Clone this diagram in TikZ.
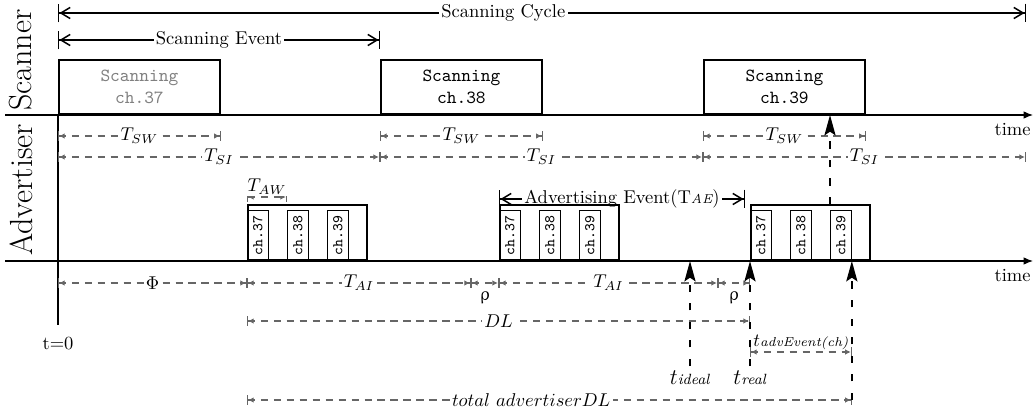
\documentclass[tikz,border=0pt]{standalone}
\usepackage{upgreek}
\usetikzlibrary{arrows.meta}

\tikzset{
  axis/.style={line width=0.6pt,-{Latex[length=5pt,width=4pt]}},
  scanbox/.style={draw,line width=1pt,anchor=south west,minimum width=86.9pt,
    minimum height=29.2pt,inner sep=0pt,align=center,font=\ttfamily},
  advbox/.style={draw,line width=1pt,anchor=south west,minimum width=64.3pt,
    minimum height=29.7pt,inner sep=0pt},
  chbox/.style={draw,line width=0.5pt,rotate=90,anchor=north west,minimum width=27pt,
    minimum height=11.3pt,inner sep=0pt,font=\footnotesize\ttfamily},
  dim/.style={black!60,line width=0.6pt,dash pattern=on 4pt off 3pt,
    {Bar[width=5pt]Latex[length=3pt,width=3pt]}-{Latex[length=3pt,width=3pt]Bar[width=5pt]}},
  span/.style={line width=0.8pt,
    {Bar[width=10pt]Straight Barb[length=5pt,width=6pt]}-{Straight Barb[length=5pt,width=6pt]Bar[width=10pt]}},
  marker/.style={line width=1pt,dash pattern=on 4pt off 6pt,-{Stealth[length=11pt,width=6pt,inset=2pt]}},
  lab/.style={fill=white,inner sep=1.2pt,text=black},
}

\begin{document}
\begin{tikzpicture}[x=0.54pt,y=-0.54pt]
\useasboundingbox (0,0) rectangle (1035,410);

% levels
\coordinate (cyc) at (0,13);
\coordinate (ev) at (0,40);
\coordinate (sw) at (0,136);
\coordinate (si) at (0,157);
\coordinate (aw) at (0,197);
\coordinate (ae) at (0,199);
\coordinate (ph) at (0,283);
\coordinate (dl) at (0,321);
\coordinate (te) at (0,352);
\coordinate (lo) at (0,366);
\coordinate (tot) at (0,400);

% axes
\coordinate (sl) at (5,115);
\coordinate (sr) at (1033,115);
\coordinate (al) at (5,261);
\coordinate (ar) at (1033,261);
\draw[axis] (sl) -- (sr) node[below left,inner sep=1pt,yshift=-3pt] (tsc) {time};
\draw[axis] (al) -- (ar) node[below left,inner sep=1pt,yshift=-3pt] (tad) {time};
\node[rotate=90,font=\LARGE] (scn) at (21,60) {Scanner};
\node[rotate=90,font=\LARGE] (adv) at (21,190) {Advertiser};

\coordinate (t0) at (58,115);
\coordinate (t0b) at (58,325);
\coordinate (tend) at (1026,115);
\draw[line width=0.6pt] (t0) -- (t0b) node[below=3pt] (zero) {t=0};

% scanner
\node[scanbox,text=black!50] (sc1) at (58,115) {Scanning\\ch.37};
\node[scanbox] (sc2) at (380,115) {Scanning\\ch.38};
\node[scanbox] (sc3) at (703,115) {Scanning\\ch.39};

\draw[span] (sc1.south west |- cyc) -- node[lab,pos=0.46]{Scanning Cycle} (tend |- cyc);
\draw[span] (sc1.south west |- ev) -- node[lab]{Scanning Event} (sc2.south west |- ev);

\foreach \n in {1,2,3}
  \draw[dim] (sc\n.south west |- sw) -- node[lab]{$T_{SW}$} (sc\n.south east |- sw);
\draw[dim] (sc1.south west |- si) -- node[lab]{$T_{SI}$} (sc2.south west |- si);
\draw[dim] (sc2.south west |- si) -- node[lab]{$T_{SI}$} (sc3.south west |- si);
\draw[dim] (sc3.south west |- si) -- node[lab]{$T_{SI}$} (tend |- si);

% advertiser
\coordinate (astart) at (499,199);
\coordinate (aend) at (745,199);
\draw[span] (astart) -- node[lab]{Advertising Event(T{\scriptsize\itshape AE})} (aend);

\foreach \n/\x in {1/247,2/499,3/750} {
  \node[advbox] (ad\n) at (\x,261) {};
  \foreach \c [count=\i from 0] in {37,38,39}
    \node[chbox] (c\n\c) at (\x+40*\i,261) {ch.\c};
}

\draw[dim] (ad1.south west |- aw) -- node[lab,above]{$T_{AW}$} (c138.north west |- aw);

% intervals
\coordinate (rho1) at (471,261);
\coordinate (rho2) at (718,261);
\draw[dim] (t0 |- ph) -- node[lab]{$\Phi$} (ad1.south west |- ph);
\draw[dim] (ad1.south west |- ph) -- node[lab]{$T_{AI}$} (rho1 |- ph);
\draw[dim] (rho1 |- ph) -- node[below=1pt,text=black]{$\uprho$} (ad2.south west |- ph);
\draw[dim] (ad2.south west |- ph) -- node[lab]{$T_{AI}$} (rho2 |- ph);
\draw[dim] (rho2 |- ph) -- node[below=1pt,text=black]{$\uprho$} (ad3.south west |- ph);
\draw[dim] (ad1.south west |- dl) -- node[lab]{$DL$} (ad3.south west |- dl);
\draw[dim] (ad3.south west |- te) -- node[above,inner sep=1pt,text=black]{$t$\textit{\scriptsize advEvent(ch)}} (c339.south west |- te);
\draw[dim] (ad1.south west |- tot) -- node[lab,pos=0.47]{$total\ advertiserDL$} (c339.south west |- tot);

% markers
\coordinate (tid) at (690,261);
\draw[marker] (tid |- lo) node[below,inner sep=2pt]{\large$t$\textit{\footnotesize ideal}} -- (tid);
\draw[marker] (ad3.south west |- lo) node[below,inner sep=2pt]{\large$t$\textit{\footnotesize real}} -- (ad3.south west);
\draw[marker] (c339.south west |- tot) -- (c339.south west);
\draw[marker] (c339.north east |- ad3.north) -- (c339.north east |- sl);
\end{tikzpicture}
\end{document}
